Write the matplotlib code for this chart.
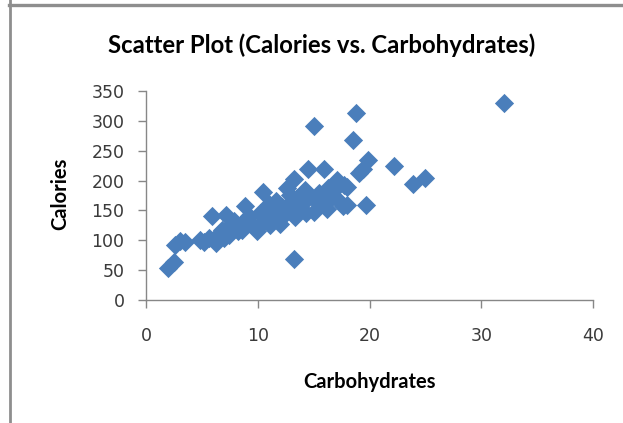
import matplotlib
matplotlib.use("Agg")
import matplotlib.pyplot as plt
from matplotlib.lines import Line2D

# Nutrition data: carbohydrates (g) vs calories
carbohydrates = [
    2.0, 2.5, 2.6, 3.0, 3.5,
    4.8, 5.2, 5.6, 5.9, 6.3, 6.5, 6.8, 7.0, 7.2, 7.4, 7.6, 7.9, 8.2, 8.6, 8.7,
    8.9, 9.2, 9.5, 9.9, 10.0, 10.2, 10.5, 10.7, 11.0, 11.1, 11.3, 11.6, 12.0,
    12.2, 12.5, 12.6, 12.8, 13.2, 13.2, 13.3, 13.5, 13.8, 14.0, 14.3, 14.5,
    14.6, 15.0, 15.0, 15.2, 15.5, 15.9, 16.0, 16.2, 16.5, 16.8, 17.1, 17.3,
    17.6, 18.0, 18.0, 18.5, 18.8, 19.1, 19.4, 19.7, 19.9, 22.2, 23.9, 25.0,
    32.0, 11.6, 12.9, 14.2, 16.3, 17.7,
]
calories = [
    53, 63, 92, 98, 97,
    101, 97, 104, 140, 96, 110, 118, 104, 143, 109, 125, 132, 115, 117, 130,
    157, 140, 128, 115, 122, 145, 181, 135, 160, 126, 150, 140, 128,
    155, 145, 188, 160, 203, 69, 139, 170, 150, 160, 145, 220,
    175, 292, 148, 165, 180, 220, 160, 152, 170, 185, 201, 165,
    157, 159, 190, 268, 313, 212, 220, 159, 234, 225, 194, 205,
    330, 165, 176, 184, 188, 193,
]

x_ticks = [0, 10, 20, 30, 40]
y_ticks = [0, 50, 100, 150, 200, 250, 300, 350]

W, H = 623, 423
fig = plt.figure(figsize=(W / 100, H / 100), dpi=100)
fig.patch.set_facecolor("white")

ax = fig.add_axes([146 / W, 1 - 300 / H, (593 - 146) / W, (300 - 91) / H])
ax.scatter(carbohydrates, calories, marker="D", s=96, color="#4A7EBB",
           linewidths=0, clip_on=False, zorder=3)

ax.set_xlim(0, 40)
ax.set_ylim(0, 350)
ax.set_xticks(x_ticks)
ax.set_yticks(y_ticks)

axis_grey = "#878787"
for side in ("top", "right"):
    ax.spines[side].set_visible(False)
for side in ("left", "bottom"):
    ax.spines[side].set_color(axis_grey)
    ax.spines[side].set_linewidth(1.0)
ax.tick_params(axis="both", direction="out", length=5.5, width=1.0,
               color=axis_grey, labelsize=12.5, labelcolor="#3a3a3a")
ax.tick_params(axis="x", pad=14)
ax.tick_params(axis="y", pad=10)

title_font = dict(family=["Lato", "DejaVu Sans"], weight="bold", color="black")
fig.text(322 / W, 1 - 45 / H, "Scatter Plot (Calories vs. Carbohydrates)",
         ha="center", va="center", fontsize=17.2, **title_font)
fig.text(369 / W, 1 - 382 / H, "Carbohydrates", ha="center", va="center",
         fontsize=14.5, **title_font)
fig.text(60 / W, 1 - 194 / H, "Calories", ha="center", va="center",
         rotation=90, fontsize=14.5, **title_font)

# Chart frame edges along the top and left
frame = "#8E8E8E"
fig.add_artist(Line2D([9 / W, 1], [1 - 5.5 / H, 1 - 5.5 / H],
                      transform=fig.transFigure, color=frame, lw=2.4))
fig.add_artist(Line2D([10 / W, 10 / W], [0, 1],
                      transform=fig.transFigure, color=frame, lw=2.0))

fig.savefig("out.png", dpi=100)
